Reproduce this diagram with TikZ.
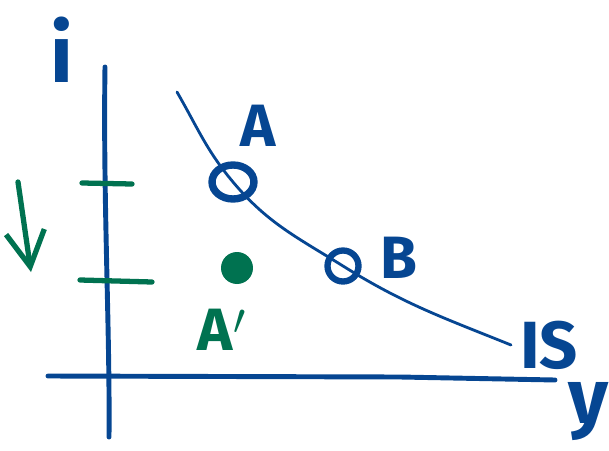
\documentclass[tikz,border=0pt]{standalone}
\usepackage{fontspec}
\setmainfont{Fira Sans}
\usetikzlibrary{arrows.meta,shapes.geometric}
\definecolor{penblue}{RGB}{6,70,146}
\definecolor{pengreen}{RGB}{0,114,80}
\tikzset{
  axisline/.style={penblue,line width=2.8pt,line cap=round},
  isline/.style={penblue,line width=1.6pt,line cap=round},
  tickline/.style={pengreen,line width=3pt,line cap=round},
  handlabel/.style={penblue,inner sep=0pt,font=\fontsize{34}{34}\selectfont\bfseries},
}
\begin{document}
\begin{tikzpicture}[x=0.02cm,y=-0.02cm]
            \useasboundingbox (0,0) rectangle (609,450);

            % Axes (hand drawn, a little off)
            \draw[axisline] (105,67) .. controls (103,200) and (110,330) .. (109,437); % vertical axis i
            \draw[axisline] (48,376) -- (400,377) -- (555,380); % horizontal axis y
            \node[handlabel,font=\fontsize{46}{46}\selectfont\bfseries] (ilab) at (62,50) {i};
            \node[handlabel,font=\fontsize{44}{44}\selectfont\bfseries] (ylab) at (589,412) {y};

            % Interest rate levels on the i axis
            \draw[tickline] (82,183) -- (132,184);
            \draw[tickline] (80,280) -- (152,282);

            % Rate falls
            \coordinate (arrTop) at (18,182);
            \coordinate (arrTip) at (31,272);
            \draw[pengreen,line width=3pt,line cap=round,-{Straight Barb[length=20pt,width=22pt,line width=3pt]}] (arrTop) -- (arrTip);

            % Points
            \node[ellipse,draw=penblue,line width=4.2pt,minimum width=0.84cm,minimum height=0.68cm,inner sep=0pt] (ptA) at (233,182) {};
            \node[circle,draw=penblue,line width=3.6pt,minimum size=0.62cm,inner sep=0pt] (ptB) at (343,266) {};
            \node[circle,fill=pengreen,minimum size=0.64cm,inner sep=0pt] (ptAp) at (237,268) {};

            % IS curve through A and B
            \coordinate (isTop) at (177,92);
            \coordinate (isEnd) at (511,345);
            \draw[isline] (isTop) to[out=-60,in=130] (ptA.center) to[out=-50,in=148] (ptB.center) to[out=-32,in=158] (isEnd);

            % Labels
            \node[handlabel] (labA) at (258,126) {A};
            \node[handlabel] (labB) at (399,258) {B};
            \node[handlabel,pengreen] (labAp) at (222,330) {A$'$};
            \node[handlabel,font=\fontsize{38}{38}\selectfont\bfseries] (labIS) at (549,345) {IS};

        \end{tikzpicture}
\end{document}
